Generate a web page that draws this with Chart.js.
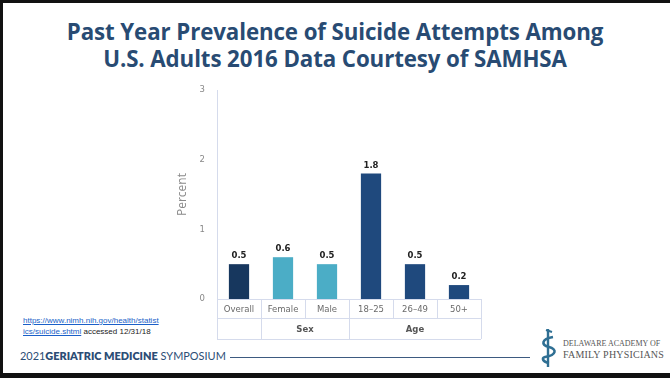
<!DOCTYPE html>
<html>
<head>
<meta charset="utf-8">
<script src="https://cdn.jsdelivr.net/npm/chart.js@4.4.1/dist/chart.umd.min.js"></script>
<style>
  html, body { margin: 0; padding: 0; background: #fff; }
  #slide { position: relative; width: 670px; height: 378px; overflow: hidden; background: #fff; font-family: "Open Sans", "Liberation Sans", sans-serif; }
  #frameTop { position: absolute; left: 0; top: 0; width: 670px; height: 3px; background: #111; }
  #frameLeft { position: absolute; left: 0; top: 0; width: 3px; height: 378px; background: #111; }
  #frameBottom { position: absolute; left: 0; top: 373px; width: 670px; height: 5px; background: #111; }
  #title { position: absolute; left: 0; top: 18px; width: 670px; text-align: center; color: #284b73; font-family: "Open Sans", "Lato", sans-serif; font-weight: 700; font-size: 22.3px; line-height: 27px; letter-spacing: -0.1px; }
  #chartBox { position: absolute; left: 170px; top: 70px; width: 320px; height: 272px; }
  #source { position: absolute; left: 23px; top: 315px; font-family: "Liberation Sans", sans-serif; font-size: 8px; line-height: 11px; color: #222; }
  #source a { color: #1a5fc8; text-decoration: underline; }
  #footer { position: absolute; left: 20px; top: 349px; font-family: "Lato", "Open Sans", sans-serif; font-size: 11.5px; color: #2c4d75; white-space: nowrap; transform: scaleX(0.95); transform-origin: left top; }
  #footer .thin { font-weight: 400; }
  #footer b { font-weight: 800; }
  #footLine { position: absolute; left: 230px; top: 357px; width: 300px; height: 1px; background: #3d5a80; }
  #logo { position: absolute; left: 537px; top: 327px; }
  #org { position: absolute; left: 563px; top: 339px; font-family: "Liberation Serif", "DejaVu Serif", serif; color: #555; white-space: nowrap; }
  #org .l1 { font-size: 8px; line-height: 10px; }
  #org .l2 { font-size: 10px; line-height: 11px; letter-spacing: 0.2px; }
</style>
</head>
<body>
<div id="slide">
  <div id="frameTop"></div>
  <div id="frameLeft"></div>
  <div id="frameBottom"></div>
  <div id="title">Past Year Prevalence of Suicide Attempts Among<br>U.S. Adults 2016 Data Courtesy of SAMHSA</div>
  <div id="chartBox"><canvas id="chart"></canvas></div>
  <div id="source"><a>https://www.nimh.nih.gov/health/statist</a><br><a>ics/suicide.shtml</a> accessed 12/31/18</div>
  <div id="footer"><span class="thin">2021</span><b>GERIATRIC MEDICINE</b> <span class="thin">SYMPOSIUM</span></div>
  <div id="footLine"></div>
  <svg id="logo" width="24" height="42" viewBox="0 0 24 42">
    <path d="M11 2 L11 40" stroke="#2f6f93" stroke-width="2.4" fill="none"/>
    <path d="M9 3 L15 5" stroke="#2f6f93" stroke-width="2" fill="none"/>
    <path d="M16 10 C 4 12, 4 18, 12 20 C 20 22, 20 28, 8 30 C 4 31, 6 35, 12 36" stroke="#2f6f93" stroke-width="2.6" fill="none"/>
  </svg>
  <div id="org"><div class="l1">DELAWARE ACADEMY OF</div><div class="l2">FAMILY PHYSICIANS</div></div>
</div>
<script>
// Suicide attempt prevalence, percent of adults (2016)
const categories = ["Overall", "Female", "Male", "18-25", "26-49", "50+"];
const percentValues = [0.5, 0.6, 0.5, 1.8, 0.5, 0.2];
const barColors = ["#17375e", "#4badc6", "#4badc6", "#1f497d", "#1f497d", "#1f497d"];
const groups = [
  { label: "", from: 0, to: 0 },
  { label: "Sex", from: 1, to: 2 },
  { label: "Age", from: 3, to: 5 }
];
const yTicks = [0, 1, 2, 3];

const tableLine = "#d5dbec";
const rowHeight1 = 19;
const rowHeight2 = 21;

// Draws value labels above bars and the two-row category table under the axis
const tablePlugin = {
  id: "categoryTable",
  afterDatasetsDraw(chart) {
    const ctx = chart.ctx;
    const meta = chart.getDatasetMeta(0);
    ctx.save();
    ctx.fillStyle = "#222";
    ctx.font = "bold 8.5px 'DejaVu Sans', sans-serif";
    ctx.textAlign = "center";
    ctx.textBaseline = "bottom";
    meta.data.forEach((bar, i) => {
      ctx.fillText(percentValues[i].toFixed(1), bar.x, bar.y - 4);
    });
    ctx.restore();
  },
  afterDraw(chart) {
    const ctx = chart.ctx;
    const x = chart.scales.x;
    const area = chart.chartArea;
    const y0 = area.bottom;
    const y1 = y0 + rowHeight1;
    const y2 = y1 + rowHeight2;
    const half = (x.getPixelForValue(1) - x.getPixelForValue(0)) / 2;
    const edge = i => x.getPixelForValue(i) - half;
    ctx.save();
    ctx.strokeStyle = tableLine;
    ctx.lineWidth = 1;
    ctx.beginPath();
    [y0, y1, y2].forEach(y => { ctx.moveTo(area.left, y + 0.5); ctx.lineTo(area.right, y + 0.5); });
    for (let i = 0; i <= categories.length; i++) {
      const px = Math.round(edge(i)) + 0.5;
      ctx.moveTo(px, y0); ctx.lineTo(px, y1);
    }
    groups.forEach(g => {
      const a = Math.round(edge(g.from)) + 0.5;
      const b = Math.round(edge(g.to + 1)) + 0.5;
      ctx.moveTo(a, y1); ctx.lineTo(a, y2);
      ctx.moveTo(b, y1); ctx.lineTo(b, y2);
    });
    ctx.stroke();
    ctx.textAlign = "center";
    ctx.textBaseline = "middle";
    ctx.fillStyle = "#6a6a6a";
    ctx.font = "8.5px 'DejaVu Sans', sans-serif";
    categories.forEach((c, i) => {
      ctx.fillText(c.replace("-", "–"), x.getPixelForValue(i), y0 + rowHeight1 / 2 + 1);
    });
    ctx.fillStyle = "#555";
    ctx.font = "bold 8.5px 'DejaVu Sans', sans-serif";
    groups.forEach(g => {
      if (!g.label) return;
      const cx = (edge(g.from) + edge(g.to + 1)) / 2;
      ctx.fillText(g.label, cx, y1 + rowHeight2 / 2 + 1);
    });
    ctx.restore();
  }
};

new Chart(document.getElementById("chart"), {
  type: "bar",
  data: {
    labels: categories,
    datasets: [{
      data: percentValues,
      backgroundColor: barColors,
      barPercentage: 0.46,
      categoryPercentage: 1.0
    }]
  },
  options: {
    responsive: true,
    maintainAspectRatio: false,
    animation: false,
    layout: { padding: { top: 20, right: 9, left: 0, bottom: 0 } },
    plugins: { legend: { display: false }, tooltip: { enabled: false } },
    scales: {
      x: {
        ticks: { display: false },
        grid: { display: false },
        border: { display: false },
        afterFit(scale) { scale.height = rowHeight1 + rowHeight2 + 3; }
      },
      y: {
        min: 0,
        max: 3,
        afterBuildTicks(scale) { scale.ticks = yTicks.map(v => ({ value: v })); },
        ticks: { color: "#888", font: { family: "DejaVu Sans", size: 8.5 }, padding: 4 },
        grid: { display: false },
        border: { display: true, color: tableLine, width: 1 },
        title: { display: true, text: "Percent", color: "#8a8a8a", font: { family: "Open Sans", size: 12 }, padding: { top: 5, bottom: 0 } },
        afterFit(scale) { scale.width = 47; }
      }
    }
  },
  plugins: [tablePlugin]
});
</script>
</body>
</html>
